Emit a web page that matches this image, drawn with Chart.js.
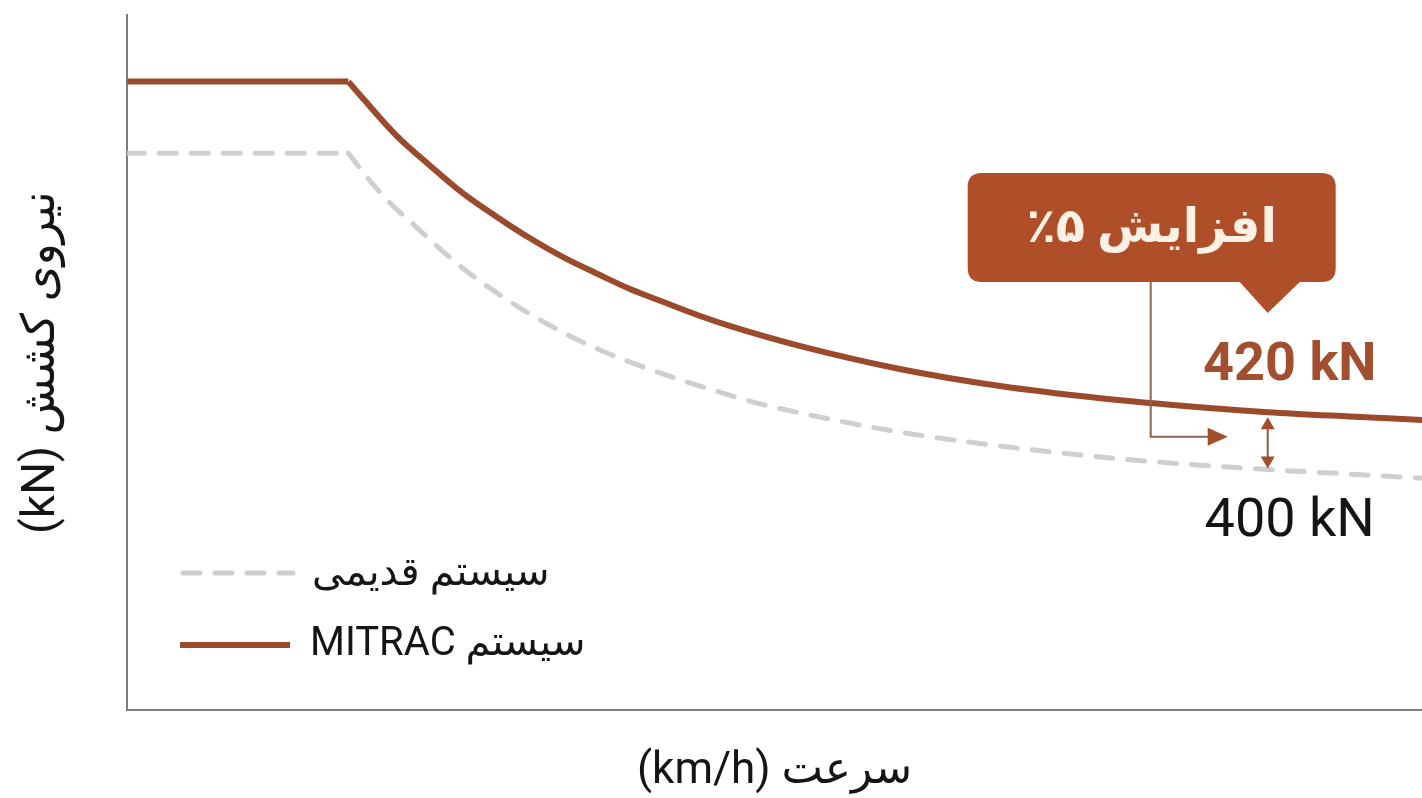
<!DOCTYPE html>
<html lang="fa">
<head>
<meta charset="utf-8">
<script src="https://cdn.jsdelivr.net/npm/chart.js@4.4.1/dist/chart.umd.min.js"></script>
<style>
  html, body { margin: 0; padding: 0; background: #fff; }
  #wrap { width: 1422px; height: 798px; }
</style>
</head>
<body>
<div id="wrap"><canvas id="tractionChart"></canvas></div>
<script>
// speed (km/h) vs traction force (kN)
const plateauSpeeds = [0, 20.5];
const mitracPlateau = [537, 537];
const oldPlateau = [512.3, 512.3];

const mitracSpeeds = [20.5, 21.9, 25, 28.1, 31.1, 34.3, 37.3, 40.4, 43.6, 46.6, 49.7, 53.1, 55.9, 62.4, 71.6, 80.9, 90.2, 99.4, 105.7, 113.3, 120];
const mitracForce = [537, 531, 518.2, 507.9, 498.5, 490.2, 483, 476.4, 470.6, 465.4, 460.9, 456.1, 452.6, 445.7, 437.8, 431.9, 427.7, 424.6, 422.9, 421.4, 420.2];

const oldSpeeds = [20.5, 22.6, 24.6, 26.8, 28.7, 31.1, 34.3, 37.3, 40.4, 43.6, 46.6, 49.7, 53.1, 57.7, 62.4, 71.6, 80.9, 90.2, 99.4, 105.7, 113.3, 120];
const oldForce = [512.3, 502.3, 494.2, 486.8, 480.2, 472.6, 464, 456.8, 450.4, 444.7, 440.2, 436, 431.9, 426.7, 422.6, 416, 411.2, 407.4, 404.6, 403.1, 401.5, 400.1];

const markerSpeed = 105.7;
const markerForces = [422.9, 403.1];
const markerLabels = ['420 kN', '400 kN'];
const calloutText = 'افزایش ۵٪';
const seriesNames = ['سیستم قدیمی', 'سیستم MITRAC'];
const xTitle = 'سرعت (km/h)';
const yTitle = 'نیروی کشش (kN)';

const brown = '#9b4a2c';
const grey = '#cfcfcf';
const FONT = "Roboto, 'DejaVu Sans', sans-serif";

// wrap in RTL embedding so mixed persian/latin text reads right to left
const rtl = (s) => '\u202B' + s + '\u202C';

function pairs(xs, ys) {
  return xs.map((x, i) => ({ x, y: ys[i] }));
}

function arrowHead(ctx, tipX, tipY, dx, dy, len, half) {
  // dx, dy: unit direction of the arrow
  const bx = tipX - dx * len;
  const by = tipY - dy * len;
  ctx.beginPath();
  ctx.moveTo(tipX, tipY);
  ctx.lineTo(bx - dy * half, by + dx * half);
  ctx.lineTo(bx + dy * half, by - dx * half);
  ctx.closePath();
  ctx.fill();
}

const calloutPlugin = {
  id: 'callout',
  afterDatasetsDraw(chart) {
    const { ctx, scales: { x, y } } = chart;
    const ax = x.getPixelForValue(markerSpeed);
    const yNew = y.getPixelForValue(markerForces[0]);
    const yOld = y.getPixelForValue(markerForces[1]);

    ctx.save();

    // callout box
    const left = ax - 300, right = ax + 68, top = 173, bottom = 282, r = 14;
    ctx.fillStyle = '#af4f29';
    ctx.beginPath();
    ctx.moveTo(left + r, top);
    ctx.lineTo(right - r, top);
    ctx.quadraticCurveTo(right, top, right, top + r);
    ctx.lineTo(right, bottom - r);
    ctx.quadraticCurveTo(right, bottom, right - r, bottom);
    ctx.lineTo(ax + 32, bottom);
    ctx.lineTo(ax, bottom + 31);
    ctx.lineTo(ax - 28, bottom);
    ctx.lineTo(left + r, bottom);
    ctx.quadraticCurveTo(left, bottom, left, bottom - r);
    ctx.lineTo(left, top + r);
    ctx.quadraticCurveTo(left, top, left + r, top);
    ctx.closePath();
    ctx.fill();

    ctx.fillStyle = '#fdf1e6';
    ctx.font = 'bold 48px ' + FONT;
    ctx.textAlign = 'center';
    ctx.textBaseline = 'middle';
    ctx.fillText(rtl(calloutText), ax - 116, 230);

    // elbow connector
    const cx = ax - 117;
    const cy = (yNew + yOld) / 2 - 4;
    ctx.strokeStyle = '#8a6455';
    ctx.lineWidth = 2;
    ctx.beginPath();
    ctx.moveTo(cx, bottom);
    ctx.lineTo(cx, cy);
    ctx.lineTo(ax - 56, cy);
    ctx.stroke();
    ctx.fillStyle = '#a24d2c';
    arrowHead(ctx, ax - 40, cy, 1, 0, 20, 9);

    // double arrow between curves
    const t = yNew + 5, b = yOld - 1;
    ctx.strokeStyle = '#8a5a45';
    ctx.beginPath();
    ctx.moveTo(ax, t + 8);
    ctx.lineTo(ax, b - 8);
    ctx.stroke();
    ctx.fillStyle = '#a24d2c';
    arrowHead(ctx, ax, t, 0, -1, 12, 7);
    arrowHead(ctx, ax, b, 0, 1, 12, 7);

    // value labels
    ctx.font = 'bold 54px ' + FONT;
    ctx.fillStyle = '#a14f2e';
    ctx.fillText(markerLabels[0], ax + 22, 366);
    ctx.font = '54px ' + FONT;
    ctx.fillStyle = '#151515';
    ctx.fillText(markerLabels[1], ax + 22, 522);

    // legend inside the plot
    ctx.lineWidth = 5;
    ctx.lineCap = 'round';
    ctx.strokeStyle = grey;
    ctx.setLineDash([17, 15]);
    ctx.beginPath();
    ctx.moveTo(183, 573);
    ctx.lineTo(293, 573);
    ctx.stroke();
    ctx.setLineDash([]);
    ctx.lineCap = 'butt';
    ctx.lineWidth = 6;
    ctx.strokeStyle = brown;
    ctx.beginPath();
    ctx.moveTo(180, 645);
    ctx.lineTo(290, 645);
    ctx.stroke();

    ctx.font = '40px ' + FONT;
    ctx.fillStyle = '#151515';
    ctx.textAlign = 'left';
    ctx.fillText(rtl(seriesNames[0]), 312, 575);
    ctx.fillText(rtl(seriesNames[1]), 310, 645);

    ctx.restore();
  },
};

const lineBase = { pointRadius: 0, fill: false };

new Chart(document.getElementById('tractionChart'), {
  type: 'line',
  data: {
    datasets: [
      {
        ...lineBase,
        label: seriesNames[0],
        data: pairs(plateauSpeeds, oldPlateau),
        borderColor: grey,
        borderWidth: 5,
        borderDash: [17, 15],
        borderCapStyle: 'round',
        tension: 0,
      },
      {
        ...lineBase,
        label: seriesNames[0],
        data: pairs(oldSpeeds, oldForce),
        borderColor: grey,
        borderWidth: 5,
        borderDash: [17, 15],
        borderCapStyle: 'round',
        cubicInterpolationMode: 'monotone',
      },
      {
        ...lineBase,
        label: seriesNames[1],
        data: pairs(plateauSpeeds, mitracPlateau),
        borderColor: brown,
        borderWidth: 6,
        tension: 0,
      },
      {
        ...lineBase,
        label: seriesNames[1],
        data: pairs(mitracSpeeds, mitracForce),
        borderColor: brown,
        borderWidth: 6,
        cubicInterpolationMode: 'monotone',
      },
    ],
  },
  options: {
    responsive: true,
    maintainAspectRatio: false,
    animation: false,
    layout: { padding: { top: 15, right: 0, bottom: 0, left: 0 } },
    plugins: {
      legend: { display: false },
      tooltip: { enabled: false },
    },
    scales: {
      x: {
        type: 'linear',
        min: 0,
        max: 120,
        grid: { display: false, drawTicks: false },
        border: { display: true, color: '#7d7d7d', width: 2 },
        ticks: { display: false },
        title: {
          display: true,
          text: rtl(xTitle),
          color: '#151515',
          font: { family: FONT, size: 44 },
          padding: { top: 35, bottom: 0 },
        },
      },
      y: {
        type: 'linear',
        min: 320,
        max: 560,
        grid: { display: false, drawTicks: false },
        border: { display: true, color: '#7d7d7d', width: 2 },
        ticks: { display: false },
        title: {
          display: true,
          text: rtl(yTitle),
          color: '#151515',
          font: { family: FONT, size: 46 },
          padding: { top: 15, bottom: 57 },
        },
      },
    },
  },
  plugins: [calloutPlugin],
});
</script>
</body>
</html>
